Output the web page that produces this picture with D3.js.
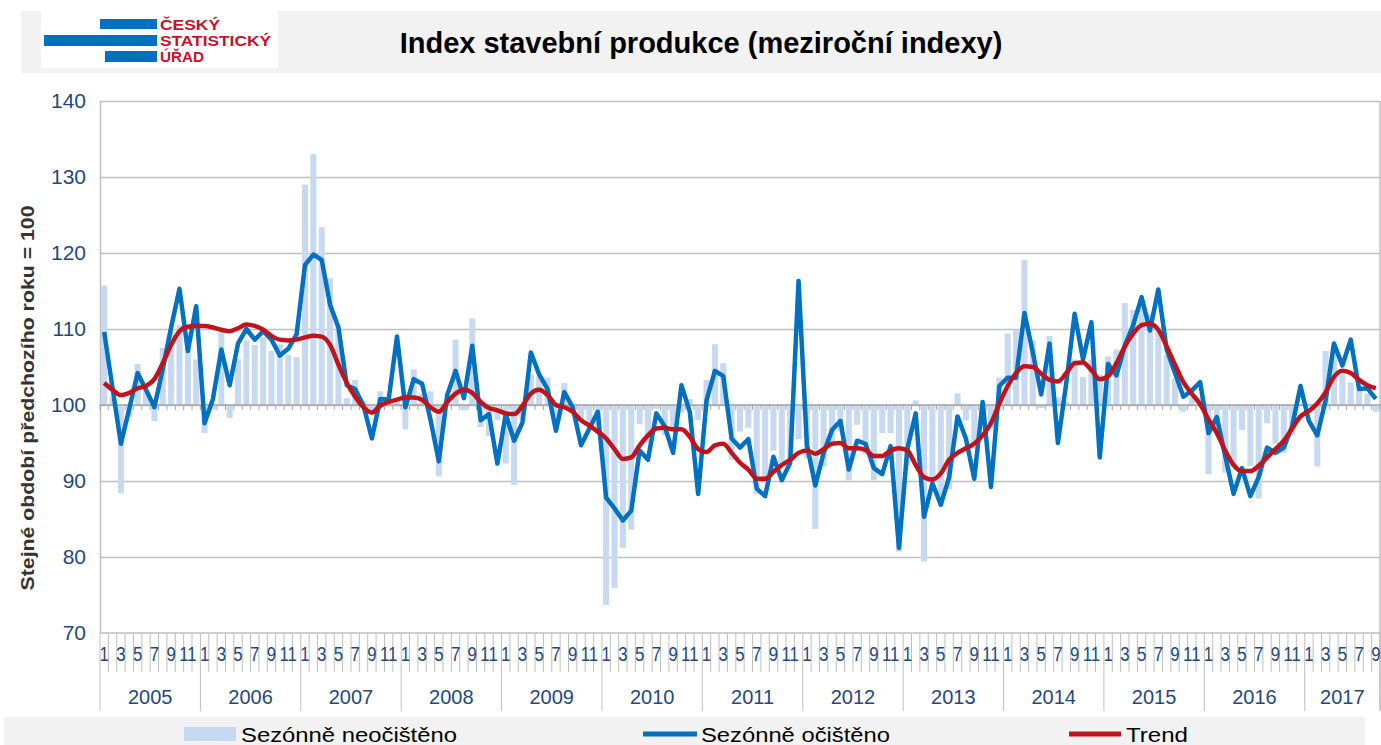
<!DOCTYPE html>
<html>
<head>
<meta charset="utf-8">
<script src="https://cdn.jsdelivr.net/npm/d3@7"></script>
<style>
  body { margin: 0; background: #fff; }
  svg { display: block; font-family: "Liberation Sans", Arial, sans-serif; }
</style>
</head>
<body>
<script>
// categories
var years = [2005, 2006, 2007, 2008, 2009, 2010, 2011, 2012, 2013, 2014, 2015, 2016, 2017];
var lastMonth = 9; // data ends in 9/2017
var monthLabels = [1, 3, 5, 7, 9, 11];
var yTicks = [70, 80, 90, 100, 110, 120, 130, 140];
var seriesNames = ["Sezónně neočištěno", "Sezónně očištěno", "Trend"];

// Sezónně neočištěno (bars)
var nsa = [
  115.7, 101.0, 88.4, 98.4, 105.4, 102.0, 97.9, 107.5, 109.7, 110.5, 109.5, 106.0,
  96.3, 99.4, 109.7, 98.3, 106.1, 108.5, 107.9, 108.9, 107.1, 108.0, 106.6, 106.3,
  129.0, 133.0, 123.4, 116.7, 110.0, 100.9, 103.3, 100.5, 99.0, 101.8, 101.0, 100.5,
  96.8, 104.7, 101.5, 101.8, 90.6, 100.0, 108.6, 99.3, 111.4, 97.1, 95.9, 98.0,
  92.3, 89.5, 98.0, 104.0, 103.8, 103.6, 98.0, 102.9, 99.0, 98.0, 97.0, 97.0,
  73.7, 75.9, 81.2, 83.6, 97.5, 95.0, 99.5, 96.0, 97.0, 99.0, 100.8, 98.0,
  103.3, 108.0, 105.5, 92.8, 96.5, 97.0, 88.3, 90.0, 94.0, 92.0, 93.0, 95.5,
  93.0, 83.7, 91.9, 95.0, 96.5, 90.1, 97.4, 93.5, 90.1, 96.3, 96.3, 80.7,
  91.9, 100.6, 79.4, 90.0, 86.7, 88.9, 101.5, 98.0, 95.0, 98.0, 97.0, 103.6,
  109.4, 109.9, 119.1, 108.5, 99.6, 109.1, 101.0, 100.4, 106.0, 103.7, 106.0, 104.0,
  106.4, 107.3, 113.4, 112.5, 113.0, 112.0, 110.0, 106.6, 103.5, 99.1, 101.0, 101.0,
  90.9, 97.0, 91.1, 92.0, 96.7, 92.0, 87.7, 97.6, 94.9, 93.7, 96.0, 100.0,
  100.0, 91.9, 107.1, 107.1, 104.0, 103.0, 102.0, 101.5, 99.1
];

// Sezónně očištěno (blue line)
var sa = [
  109.6, 102.2, 94.9, 99.5, 104.2, 102.0, 99.7, 104.7, 110.2, 115.3, 107.1, 113.0,
  97.6, 100.8, 107.3, 102.6, 108.1, 110.0, 108.6, 109.7, 108.6, 106.5, 107.4, 109.3,
  118.4, 119.8, 119.1, 113.2, 110.2, 102.6, 102.1, 99.9, 95.6, 100.8, 100.7, 109.0,
  99.7, 103.4, 102.8, 98.1, 92.6, 101.3, 104.5, 100.9, 107.8, 98.0, 98.8, 92.3,
  98.8, 95.3, 97.7, 106.9, 104.0, 102.1, 96.6, 101.7, 99.7, 94.7, 96.9, 99.1,
  87.8, 86.4, 84.8, 86.1, 94.0, 92.8, 98.9, 97.2, 93.7, 102.6, 99.1, 88.3,
  100.6, 104.5, 103.8, 95.6, 94.4, 95.5, 89.0, 88.0, 93.2, 90.1, 92.4, 116.3,
  94.7, 89.4, 93.7, 96.7, 97.9, 91.5, 95.3, 94.9, 91.7, 90.9, 94.6, 81.2,
  94.2, 98.9, 85.3, 89.7, 86.9, 90.5, 98.5, 95.6, 90.3, 100.4, 89.2, 102.5,
  103.6, 103.6, 112.1, 106.9, 101.4, 108.1, 95.0, 102.9, 112.0, 106.0, 110.9, 93.1,
  105.4, 103.9, 107.8, 110.5, 114.2, 109.8, 115.2, 107.3, 104.2, 101.1, 101.9, 103.0,
  96.3, 98.4, 93.3, 88.3, 91.7, 88.0, 90.5, 94.4, 93.7, 94.4, 97.2, 102.5,
  97.9, 96.0, 100.6, 108.1, 105.2, 108.6, 102.1, 102.2, 100.8
];

// Trend (red line)
var trend = [
  102.9, 102.0, 101.3, 101.6, 102.2, 102.5, 103.4, 105.5, 107.9, 109.7, 110.3, 110.4,
  110.4, 110.2, 109.9, 109.7, 110.1, 110.6, 110.4, 109.9, 109.1, 108.6, 108.5, 108.6,
  108.9, 109.1, 109.0, 107.9, 105.3, 102.9, 101.1, 99.7, 99.0, 99.9, 100.4, 100.7,
  101.0, 101.0, 100.7, 99.7, 99.1, 100.4, 101.5, 102.0, 101.6, 100.4, 99.6, 99.3,
  98.9, 98.8, 99.9, 101.5, 102.0, 101.3, 100.0, 99.7, 99.1, 98.0, 97.3, 96.5,
  95.6, 94.2, 92.9, 93.1, 94.7, 96.0, 96.9, 97.0, 96.8, 96.8, 95.8, 94.2,
  93.8, 94.7, 94.9, 93.7, 92.4, 91.5, 90.3, 90.3, 91.2, 92.1, 92.8, 93.7,
  94.0, 93.6, 94.2, 94.9, 95.0, 94.3, 94.3, 94.1, 93.3, 93.3, 94.0, 94.3,
  94.0, 92.1, 90.5, 90.2, 91.0, 92.8, 93.7, 94.3, 94.9, 96.0, 97.6, 100.2,
  102.5, 104.2, 105.1, 105.0, 104.1, 103.3, 103.1, 104.2, 105.5, 105.6, 104.6, 103.4,
  103.8, 105.5, 107.7, 109.4, 110.5, 110.7, 109.9, 107.7, 105.3, 103.0, 101.5, 100.1,
  98.1, 96.3, 94.0, 92.1, 91.3, 91.3, 92.0, 93.1, 94.2, 95.3, 96.9, 98.5,
  99.2, 100.2, 101.7, 103.7, 104.5, 104.2, 103.3, 102.6, 102.2
];

var colors = { bar: "#c6d9f1", sa: "#0070c0", trend: "#c0141c", grid: "#bfbfbf", tick: "#1f497d" };

// build the month list from years
var periods = [];
years.forEach(function(yr) {
  for (var m = 1; m <= 12; m++) {
    if (yr === years[years.length - 1] && m > lastMonth) break;
    periods.push({ year: yr, month: m });
  }
});
periods.forEach(function(p, i) { p.i = i; p.nsa = nsa[i]; p.sa = sa[i]; p.trend = trend[i]; });

var plot = { left: 100, right: 1380, top: 101, bottom: 633 };

var svg = d3.select("body").append("svg")
    .attr("width", 1381)
    .attr("height", 745);

// header band
svg.append("rect").attr("x", 21).attr("y", 11).attr("width", 1360).attr("height", 62).attr("fill", "#f2f2f2");
var logo = svg.append("g");
logo.append("rect").attr("x", 41).attr("y", 11).attr("width", 237).attr("height", 57).attr("fill", "#fff");
logo.append("rect").attr("x", 100).attr("y", 19).attr("width", 57).attr("height", 10).attr("fill", "#0071bc");
logo.append("rect").attr("x", 44).attr("y", 35).attr("width", 113).attr("height", 11).attr("fill", "#0071bc");
logo.append("rect").attr("x", 105).attr("y", 51).attr("width", 52).attr("height", 11).attr("fill", "#0071bc");
[["ČESKÝ", 30, 60], ["STATISTICKÝ", 46, 111], ["ÚŘAD", 62, 44]].forEach(function(t) {
  logo.append("text").attr("x", 160).attr("y", t[1])
    .attr("textLength", t[2]).attr("lengthAdjust", "spacingAndGlyphs")
    .style("font-size", "15.5px").style("font-weight", "bold").attr("fill", "#c8102e")
    .text(t[0]);
});
svg.append("text")
    .attr("x", 701).attr("y", 53)
    .attr("text-anchor", "middle")
    .style("font-size", "29px").style("font-weight", "bold").attr("fill", "#000")
    .text("Index stavební produkce (meziroční indexy)");

// scales
var x = d3.scaleBand()
    .domain(periods.map(function(d) { return d.i; }))
    .range([plot.left, plot.right])
    .paddingInner(0.28)
    .paddingOuter(0.14);
var step = x.step();
var y = d3.scaleLinear().domain([70, 140]).range([plot.bottom, plot.top]);
var cx = function(d) { return x(d.i) + x.bandwidth() / 2; };

// gridlines
var grid = svg.append("g")
    .attr("transform", "translate(" + plot.left + ",0)")
    .call(d3.axisLeft(y).tickValues(yTicks.slice(1)).tickSize(-(plot.right - plot.left)).tickFormat(""));
grid.select(".domain").remove();
grid.selectAll("line").attr("stroke", colors.grid).attr("stroke-width", 1.5);

// y axis labels
var yAxis = svg.append("g")
    .attr("transform", "translate(" + plot.left + ",0)")
    .call(d3.axisLeft(y).tickValues(yTicks).tickSize(0).tickPadding(14));
yAxis.select(".domain").attr("stroke", colors.grid).attr("stroke-width", 1.5);
yAxis.selectAll("text").style("font-size", "21px").attr("fill", colors.tick).style("font-family", "Liberation Sans, Arial, sans-serif");
svg.append("line").attr("x1", plot.right).attr("x2", plot.right).attr("y1", plot.top).attr("y2", 711)
    .attr("stroke", colors.grid).attr("stroke-width", 1.5);

svg.append("text")
    .attr("transform", "translate(34," + 398 + ") rotate(-90)")
    .attr("text-anchor", "middle")
    .attr("textLength", 385).attr("lengthAdjust", "spacingAndGlyphs")
    .style("font-size", "18px").style("font-weight", "bold").attr("fill", "#333")
    .text("Stejné období předchozího roku = 100");

// bars
svg.append("g").selectAll("rect")
    .data(periods)
    .enter().append("rect")
    .attr("x", function(d) { return x(d.i); })
    .attr("width", x.bandwidth())
    .attr("y", function(d) { return Math.min(y(d.nsa), y(100)); })
    .attr("height", function(d) { return Math.abs(y(d.nsa) - y(100)); })
    .attr("fill", colors.bar);

// axis at 100 with small month ticks
var base = svg.append("g");
base.append("line").attr("x1", plot.left).attr("x2", plot.right).attr("y1", y(100)).attr("y2", y(100))
    .attr("stroke", "#a6a6a6").attr("stroke-width", 1.5);
base.selectAll("line.t").data(d3.range(periods.length + 1)).enter().append("line").attr("class", "t")
    .attr("x1", function(i) { return plot.left + i * step; })
    .attr("x2", function(i) { return plot.left + i * step; })
    .attr("y1", y(100)).attr("y2", y(100) + 5)
    .attr("stroke", "#a6a6a6").attr("stroke-width", 1);

// lines
var saLine = d3.line().x(cx).y(function(d) { return y(d.sa); });
var trendLine = d3.line().x(cx).y(function(d) { return y(d.trend); }).curve(d3.curveMonotoneX);
svg.append("path").datum(periods).attr("d", saLine)
    .attr("fill", "none").attr("stroke", colors.sa).attr("stroke-width", 4.5).attr("stroke-linejoin", "round");
svg.append("path").datum(periods).attr("d", trendLine)
    .attr("fill", "none").attr("stroke", colors.trend).attr("stroke-width", 4.5).attr("stroke-linejoin", "round");

// category axis at the bottom
var cat = svg.append("g");
cat.append("line").attr("x1", plot.left).attr("x2", plot.right).attr("y1", plot.bottom).attr("y2", plot.bottom)
    .attr("stroke", colors.grid).attr("stroke-width", 1.5);
cat.selectAll("line.m").data(d3.range(periods.length + 1)).enter().append("line").attr("class", "m")
    .attr("x1", function(i) { return plot.left + i * step; })
    .attr("x2", function(i) { return plot.left + i * step; })
    .attr("y1", plot.bottom)
    .attr("y2", function(i) { return (i % 12 === 0 || i === periods.length) ? 711 : 672; })
    .attr("stroke", colors.grid).attr("stroke-width", 1);
cat.selectAll("text.m").data(periods.filter(function(d) { return monthLabels.indexOf(d.month) >= 0; }))
    .enter().append("text").attr("class", "m")
    .attr("transform", function(d) { return "translate(" + cx(d) + ",661) scale(0.8,1)"; })
    .attr("text-anchor", "middle")
    .style("font-size", "21px").attr("fill", colors.tick)
    .text(function(d) { return d.month; });
cat.selectAll("text.y").data(years).enter().append("text").attr("class", "y")
    .attr("x", function(yr) {
      var ms = periods.filter(function(d) { return d.year === yr; });
      return (x(ms[0].i) - step * 0.14 + x(ms[ms.length - 1].i) + x.bandwidth() + step * 0.14) / 2;
    })
    .attr("y", 704)
    .attr("text-anchor", "middle")
    .style("font-size", "20px").attr("fill", colors.tick)
    .text(function(yr) { return yr; });

// legend
var leg = svg.append("g");
leg.append("rect").attr("x", 4).attr("y", 717).attr("width", 1361).attr("height", 28).attr("fill", "#f2f2f2");
leg.append("rect").attr("x", 184).attr("y", 727).attr("width", 52).attr("height", 14).attr("fill", colors.bar);
leg.append("line").attr("x1", 643).attr("x2", 697).attr("y1", 734).attr("y2", 734).attr("stroke", colors.sa).attr("stroke-width", 5);
leg.append("line").attr("x1", 1069).attr("x2", 1121).attr("y1", 734).attr("y2", 734).attr("stroke", colors.trend).attr("stroke-width", 5);
[[seriesNames[0], 241, 216], [seriesNames[1], 701, 189], [seriesNames[2], 1126, 62]].forEach(function(t) {
  leg.append("text").attr("x", t[1]).attr("y", 742)
    .attr("textLength", t[2]).attr("lengthAdjust", "spacingAndGlyphs")
    .style("font-size", "21px").attr("fill", "#000")
    .text(t[0]);
});
</script>
</body>
</html>
